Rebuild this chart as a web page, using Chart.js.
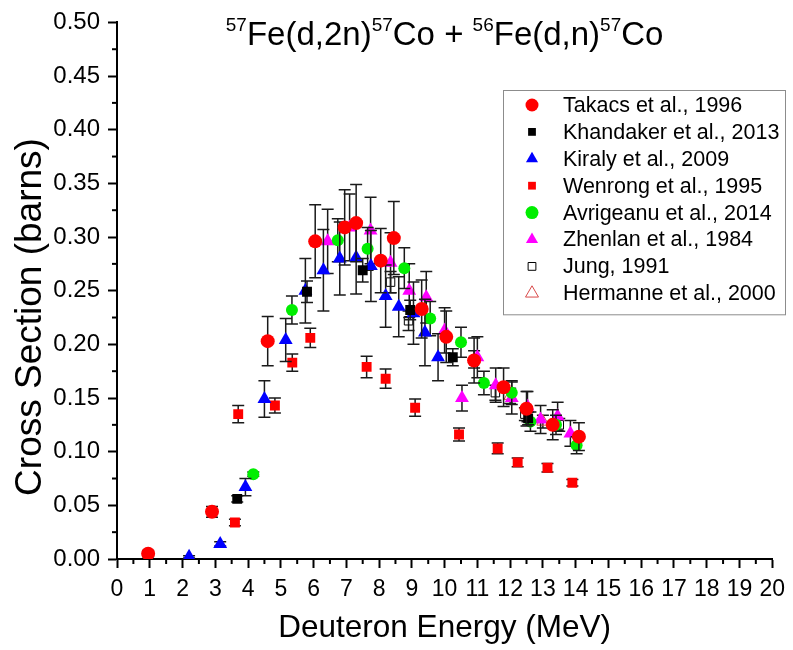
<!DOCTYPE html>
<html>
<head>
<meta charset="utf-8">
<script src="https://cdn.jsdelivr.net/npm/chart.js@4.4.1/dist/chart.umd.min.js"></script>
<style>
  html, body { margin: 0; padding: 0; background: #fff; }
</style>
</head>
<body>
<canvas id="chart" width="793" height="650"></canvas>
<script>
const FONT = '"Liberation Sans", Arial, sans-serif';

// Takacs et al., 1996
const takacsX = [0.95, 2.9, 4.6, 6.05, 6.95, 7.3, 8.05, 8.45, 9.3, 10.05, 10.9, 11.8, 12.5, 13.3, 14.1];
const takacsY = [0.005, 0.044, 0.203, 0.296, 0.309, 0.313, 0.278, 0.299, 0.233, 0.207, 0.185, 0.160, 0.140, 0.125, 0.114];
const takacsErr = [0.003, 0.005, 0.023, 0.034, 0.035, 0.036, 0.030, 0.034, 0.027, 0.024, 0.021, 0.018, 0.016, 0.014, 0.013];

// Khandaker et al., 2013
const khandakerX = [3.67, 5.8, 7.5, 8.95, 10.25, 12.55];
const khandakerY = [0.056, 0.249, 0.269, 0.232, 0.188, 0.131];
const khandakerErr = [0.003, 0.010, 0.011, 0.009, 0.008, 0.006];

// Kiraly et al., 2009
const kiralyX = [2.2, 3.15, 3.92, 4.5, 5.15, 5.75, 6.3, 6.8, 7.3, 7.75, 8.2, 8.6, 9.05, 9.4, 9.8];
const kiralyY = [0.002, 0.014, 0.067, 0.149, 0.204, 0.250, 0.269, 0.280, 0.281, 0.273, 0.245, 0.235, 0.229, 0.211, 0.188];
const kiralyErr = [0.001, 0.002, 0.008, 0.017, 0.020, 0.030, 0.038, 0.034, 0.034, 0.033, 0.029, 0.028, 0.029, 0.031, 0.022];

// Wenrong et al., 1995
const wenrongX = [3.6, 3.7, 4.82, 5.35, 5.9, 7.62, 8.2, 9.1, 10.44, 11.62, 12.23, 13.14, 13.9];
const wenrongY = [0.034, 0.135, 0.143, 0.183, 0.206, 0.179, 0.168, 0.141, 0.116, 0.103, 0.090, 0.085, 0.071];
const wenrongErr = [0.003, 0.008, 0.007, 0.008, 0.009, 0.010, 0.009, 0.008, 0.006, 0.005, 0.004, 0.004, 0.003];

// Avrigeanu et al., 2014
const avrigeanuX = [4.16, 5.34, 6.74, 7.65, 8.77, 9.56, 10.5, 11.2, 12.05, 12.62, 13.4, 14.03];
const avrigeanuY = [0.079, 0.232, 0.297, 0.289, 0.271, 0.224, 0.202, 0.164, 0.155, 0.128, 0.125, 0.106];
const avrigeanuErr = [0.002, 0.013, 0.020, 0.020, 0.019, 0.016, 0.014, 0.011, 0.011, 0.009, 0.009, 0.008];

// Zhenlan et al., 1984
const zhenlanX = [6.43, 7.1, 7.74, 8.35, 8.92, 9.44, 10.0, 10.53, 11.0, 11.56, 12.05, 12.53, 12.93, 13.45, 13.84];
const zhenlanY = [0.296, 0.309, 0.306, 0.276, 0.250, 0.244, 0.213, 0.150, 0.188, 0.162, 0.150, 0.142, 0.130, 0.133, 0.117];
const zhenlanErr = [0.030, 0.031, 0.031, 0.028, 0.025, 0.024, 0.021, 0.012, 0.019, 0.016, 0.015, 0.014, 0.013, 0.013, 0.012];

// Jung, 1991
const jungX = [8.35, 8.9, 11.55, 12.45, 13.5];
const jungY = [0.258, 0.222, 0.155, 0.135, 0.125];
const jungErr = [0.010, 0.009, 0.007, 0.006, 0.006];

// Hermanne et al., 2000
const hermanneX = [10.9, 12.0, 13.0];
const hermanneY = [0.186, 0.152, 0.128];
const hermanneErr = [0.008, 0.007, 0.006];

function pts(xs, ys) {
    return xs.map((x, i) => ({ x: x, y: ys[i] }));
}

function series(label, xs, ys, err, style, color, radius, hollow, legendRadius) {
    return {
        label: label,
        data: pts(xs, ys),
        err: err,
        showLine: false,
        pointStyle: style,
        pointRadius: radius,
        pointHoverRadius: radius,
        pointBackgroundColor: hollow ? 'rgba(0,0,0,0)' : color,
        pointBorderColor: color,
        pointBorderWidth: hollow ? 1 : 0,
        legendRadius: legendRadius
    };
}

// error bars are drawn just before each dataset's own markers
const errorBars = {
    id: 'errorBars',
    beforeDatasetDraw(chart, args) {
        const ds = chart.data.datasets[args.index];
        if (!ds.err) return;
        const yScale = chart.scales.y;
        const ctx = chart.ctx;
        ctx.save();
        ctx.strokeStyle = '#1a1a1a';
        ctx.lineWidth = 1.5;
        args.meta.data.forEach((pt, i) => {
            const e = ds.err[i];
            if (!e) return;
            const v = ds.data[i].y;
            const top = yScale.getPixelForValue(v + e);
            const bot = yScale.getPixelForValue(v - e);
            ctx.beginPath();
            ctx.moveTo(pt.x, top); ctx.lineTo(pt.x, bot);
            ctx.moveTo(pt.x - 6, top); ctx.lineTo(pt.x + 6, top);
            ctx.moveTo(pt.x - 6, bot); ctx.lineTo(pt.x + 6, bot);
            ctx.stroke();
        });
        ctx.restore();
    }
};

// short ticks halfway between the labelled ones
const minorTicks = {
    id: 'minorTicks',
    afterDraw(chart) {
        const ctx = chart.ctx;
        const area = chart.chartArea;
        ctx.save();
        ctx.strokeStyle = '#000';
        ctx.lineWidth = 2;
        ['x', 'y'].forEach(id => {
            const s = chart.scales[id];
            const t = s.ticks;
            for (let i = 0; i < t.length - 1; i++) {
                const p = s.getPixelForValue((t[i].value + t[i + 1].value) / 2);
                ctx.beginPath();
                if (id === 'x') { ctx.moveTo(p, area.bottom); ctx.lineTo(p, area.bottom + 5); }
                else { ctx.moveTo(area.left, p); ctx.lineTo(area.left - 5, p); }
                ctx.stroke();
            }
        });
        ctx.restore();
    }
};

const supTitle = {
    id: 'supTitle',
    afterDraw(chart) {
        const ctx = chart.ctx;
        const parts = [['57', 1], ['Fe(d,2n)', 0], ['57', 1], ['Co + ', 0], ['56', 1], ['Fe(d,n)', 0], ['57', 1], ['Co', 0]];
        const big = '33px ' + FONT, small = '19px ' + FONT;
        ctx.save();
        let w = 0;
        parts.forEach(p => { ctx.font = p[1] ? small : big; w += ctx.measureText(p[0]).width; });
        const area = chart.chartArea;
        let x = (area.left + area.right) / 2 - w / 2;
        const base = 45;
        ctx.fillStyle = '#000';
        ctx.textBaseline = 'alphabetic';
        ctx.textAlign = 'left';
        parts.forEach(p => {
            ctx.font = p[1] ? small : big;
            ctx.fillText(p[0], x, p[1] ? base - 14 : base);
            x += ctx.measureText(p[0]).width;
        });

        // y axis title, a little below the middle of the axis as in the original
        ctx.translate(31, 317);
        ctx.rotate(-Math.PI / 2);
        ctx.font = '37px ' + FONT;
        ctx.textAlign = 'center';
        ctx.textBaseline = 'middle';
        ctx.fillText('Cross Section (barns)', 0, 0);
        ctx.restore();
    }
};

const boxLegend = {
    id: 'boxLegend',
    afterDraw(chart) {
        const ctx = chart.ctx;
        const left = 503, top = 90, right = 785, rowH = 26.9, firstRow = 105;
        const sets = chart.data.datasets;
        ctx.save();
        ctx.fillStyle = '#fff';
        ctx.fillRect(left, top, right - left, (sets.length - 1) * rowH + 36);
        ctx.strokeStyle = '#8c8c8c';
        ctx.lineWidth = 1;
        ctx.strokeRect(left + 0.5, top + 0.5, right - left, (sets.length - 1) * rowH + 36);
        sets.forEach((ds, i) => {
            const y = firstRow + i * rowH;
            ctx.fillStyle = ds.pointBackgroundColor;
            ctx.strokeStyle = ds.pointBorderColor;
            ctx.lineWidth = ds.pointBorderWidth || 1;
            Chart.helpers.drawPoint(ctx, {
                pointStyle: ds.pointStyle, radius: ds.legendRadius, rotation: 0,
                borderWidth: ds.pointBorderWidth
            }, 532, y);
            ctx.fillStyle = '#000';
            ctx.font = '21.5px ' + FONT;
            ctx.textBaseline = 'middle';
            ctx.textAlign = 'left';
            ctx.fillText(ds.label, 563, y + 1);
        });
        ctx.restore();
    }
};

const datasets = [
    series('Takacs et al., 1996', takacsX, takacsY, takacsErr, 'circle', '#ff0000', 7, false, 6.5),
    series('Khandaker et al., 2013', khandakerX, khandakerY, khandakerErr, 'rect', '#000000', 7, false, 5.5),
    series('Kiraly et al., 2009', kiralyX, kiralyY, kiralyErr, 'triangle', '#0000ff', 8, false, 7),
    series('Wenrong et al., 1995', wenrongX, wenrongY, wenrongErr, 'rect', '#ff0000', 7, false, 5.5),
    series('Avrigeanu et al., 2014', avrigeanuX, avrigeanuY, avrigeanuErr, 'circle', '#00ee00', 6, false, 6.5),
    series('Zhenlan et al., 1984', zhenlanX, zhenlanY, zhenlanErr, 'triangle', '#ff00ff', 8, false, 7),
    series('Jung, 1991', jungX, jungY, jungErr, 'rect', '#000000', 6, true, 5.5),
    series('Hermanne et al., 2000', hermanneX, hermanneY, hermanneErr, 'triangle', '#d94a4a', 7, true, 7.5)
];

new Chart(document.getElementById('chart').getContext('2d'), {
    type: 'scatter',
    data: { datasets: datasets },
    options: {
        responsive: false,
        animation: false,
        events: [],
        layout: { padding: { top: 22, right: 17, left: 0, bottom: 0 } },
        plugins: {
            legend: { display: false },
            tooltip: { enabled: false }
        },
        scales: {
            x: {
                type: 'linear',
                min: 0,
                max: 20,
                border: { display: true, color: '#000', width: 2 },
                grid: { drawOnChartArea: false, drawTicks: true, tickLength: 9, tickWidth: 2, tickColor: '#000' },
                ticks: {
                    stepSize: 1, autoSkip: false, maxRotation: 0, padding: 8, color: '#000',
                    font: { family: FONT, size: 23 }
                },
                title: {
                    display: true, text: 'Deuteron Energy (MeV)', color: '#000',
                    font: { family: FONT, size: 31.5 }, padding: { top: 0, bottom: 3 }
                },
                afterFit(scale) { scale.height = 91; }
            },
            y: {
                type: 'linear',
                min: 0,
                max: 0.5,
                border: { display: true, color: '#000', width: 2 },
                grid: { drawOnChartArea: false, drawTicks: true, tickLength: 9, tickWidth: 2, tickColor: '#000' },
                ticks: {
                    stepSize: 0.05, padding: 8, color: '#000',
                    font: { family: FONT, size: 24 },
                    callback: v => v.toFixed(2)
                },
                title: { display: false },
                afterFit(scale) { scale.width = 117; }
            }
        }
    },
    plugins: [errorBars, minorTicks, supTitle, boxLegend]
});
</script>
</body>
</html>
